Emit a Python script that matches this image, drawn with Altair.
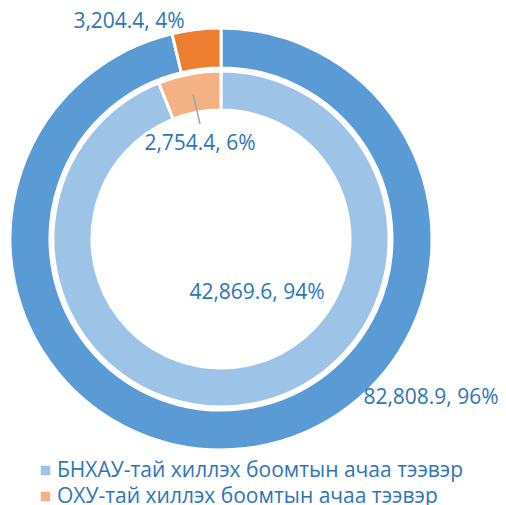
import altair as alt
import pandas as pd

categories = ["БНХАУ-тай хиллэх боомтын ачаа тээвэр", "ОХУ-тай хиллэх боомтын ачаа тээвэр"]
outer_values = [82808.9, 3204.4]
inner_values = [42869.6, 2754.4]

outer_colors = ["#5B9BD5", "#ED7D31"]
inner_colors = ["#9DC3E6", "#F4B183"]
TXT = "#2E75B6"
FONT = "Open Sans"

outer_df = pd.DataFrame({"cat": categories, "value": outer_values, "idx": [0, 1]})
inner_df = pd.DataFrame({"cat": categories, "value": inner_values, "idx": [0, 1]})

CX, CY = 213, 231  # donut centre inside the view


def label_calc(chart):
    return chart.transform_joinaggregate(total="sum(value)").transform_calculate(
        label="format(datum.value, ',.1f') + ', ' + format(datum.value / datum.total, '.0%')"
    )


outer_arc = alt.Chart(outer_df).mark_arc(
    radius=211, radius2=171, stroke="white", strokeWidth=3
).encode(
    theta=alt.Theta("value:Q", stack="normalize"),
    order=alt.Order("idx:O"),
    color=alt.Color("cat:N", scale=alt.Scale(domain=categories, range=outer_colors), legend=None),
    x=alt.value(CX), y=alt.value(CY),
)

inner_arc = alt.Chart(inner_df).mark_arc(
    radius=168, radius2=129, stroke="white", strokeWidth=3
).encode(
    theta=alt.Theta("value:Q", stack="normalize"),
    order=alt.Order("idx:O"),
    color=alt.Color(
        "cat2:N",
        scale=alt.Scale(domain=categories, range=inner_colors),
        legend=alt.Legend(
            title=None, orient="none", legendX=27, legendY=452,
            symbolType="square", symbolSize=90, symbolStrokeWidth=0,
            labelFont=FONT, labelFontSize=21, labelColor=TXT, labelLimit=480,
            labelOffset=1, rowPadding=4, symbolOffset=0,
        ),
    ),
    x=alt.value(CX), y=alt.value(CY),
).transform_calculate(cat2="datum.cat")

leader = alt.Chart(inner_df).transform_filter("datum.idx == 1").mark_rule(
    color="#A6A6A6", strokeWidth=1.5
).encode(x=alt.value(185), y=alt.value(86), x2=alt.value(192), y2=alt.value(116))

text_pos = [
    (outer_df, 1, 121, 14),
    (inner_df, 1, 192, 136),
    (inner_df, 0, 249, 285),
    (outer_df, 0, 423, 390),
]
texts = []
for df, i, px, py in text_pos:
    texts.append(
        label_calc(alt.Chart(df)).transform_filter(f"datum.idx == {i}").mark_text(
            font=FONT, fontSize=21, color=TXT, align="center", baseline="middle"
        ).encode(text="label:N", x=alt.value(px), y=alt.value(py))
    )

chart = alt.layer(outer_arc, inner_arc, leader, *texts).resolve_scale(
    color="independent", theta="independent"
).properties(
    width=490, height=497, padding=0, autosize="none"
).configure_view(stroke=None)

chart.save("out.html", embed_options={"renderer": "svg", "actions": False})
